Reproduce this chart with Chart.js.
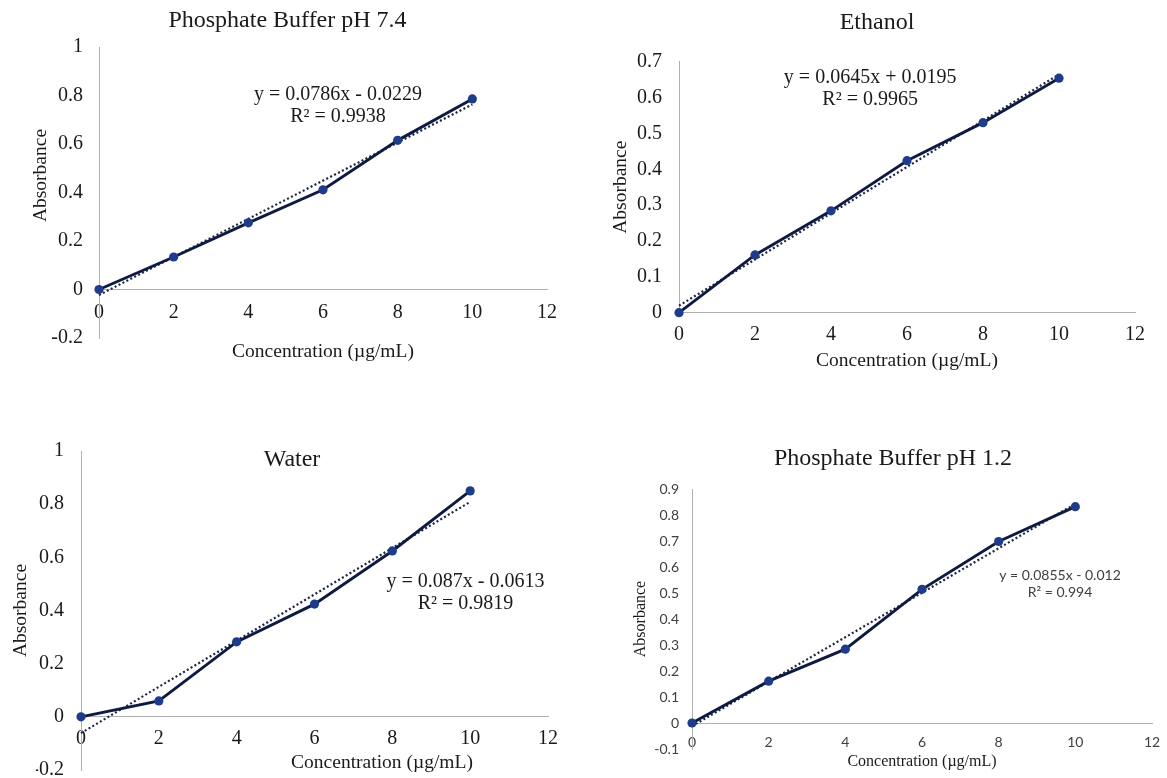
<!DOCTYPE html>
<html>
<head>
<meta charset="utf-8">
<script src="https://cdn.jsdelivr.net/npm/chart.js@4.4.1/dist/chart.umd.min.js"></script>
<style>
  html, body { margin: 0; padding: 0; background: #ffffff; }
  #wrap { position: relative; width: 1167px; height: 778px; overflow: hidden; background: #ffffff; }
  #wrap canvas { position: absolute; left: 0; top: 0; }
</style>
</head>
<body>
<div id="wrap">
  <canvas id="c1" width="1167" height="778"></canvas>
  <canvas id="c2" width="1167" height="778"></canvas>
  <canvas id="c3" width="1167" height="778"></canvas>
  <canvas id="c4" width="1167" height="778"></canvas>
</div>
<script>
// ---------------- data ----------------
const concentration = [0, 2, 4, 6, 8, 10];

const absPB74    = [0, 0.134, 0.275, 0.411, 0.615, 0.786];
const absEthanol = [0, 0.161, 0.284, 0.424, 0.530, 0.654];
const absWater   = [0, 0.060, 0.282, 0.424, 0.624, 0.850];
const absPB12    = [0, 0.161, 0.284, 0.514, 0.698, 0.832];

const trendX       = [0, 10];
const trendPB74    = [-0.0229, 0.7631];
const trendEthanol = [0.0195, 0.6645];
const trendWater   = [-0.0613, 0.8087];
const trendPB12    = [-0.012, 0.843];

const xTicks        = [0, 2, 4, 6, 8, 10, 12];
const yTicksPB74    = [-0.2, 0, 0.2, 0.4, 0.6, 0.8, 1];
const yTicksEthanol = [0, 0.1, 0.2, 0.3, 0.4, 0.5, 0.6, 0.7];
const yTicksWater   = [-0.2, 0, 0.2, 0.4, 0.6, 0.8, 1];
const yTicksPB12    = [-0.1, 0, 0.1, 0.2, 0.3, 0.4, 0.5, 0.6, 0.7, 0.8, 0.9];

const titles = ['Phosphate Buffer pH 7.4', 'Ethanol', 'Water', 'Phosphate Buffer pH 1.2'];
const xAxisTitle = 'Concentration (\u00b5g/mL)';
const yAxisTitle = 'Absorbance';
const eqPB74    = ['y = 0.0786x - 0.0229', 'R\u00b2 = 0.9938'];
const eqEthanol = ['y = 0.0645x + 0.0195', 'R\u00b2 = 0.9965'];
const eqWater   = ['y = 0.087x - 0.0613', 'R\u00b2 = 0.9819'];
const eqPB12    = ['y = 0.0855x - 0.012', 'R\u00b2 = 0.994'];

// ---------------- styling ----------------
const SERIF = '"Liberation Serif", "Times New Roman", serif';
const SANS = 'Lato, "Liberation Sans", sans-serif';
const TEXT = '#1a1a1a';
const AXIS = '#b0b0b0';
const LINE = '#0f1a40';
const MARK = '#1f3c8a';
const TREND = '#1c2442';

function pts(xs, ys) { return xs.map((x, i) => ({ x: x, y: ys[i] })); }

function notesPlugin(items) {
  return {
    id: 'notes',
    afterDraw(chart) {
      const ctx = chart.ctx;
      items.forEach(it => {
        ctx.save();
        ctx.font = it.font;
        ctx.fillStyle = it.color || TEXT;
        ctx.textAlign = 'center';
        ctx.textBaseline = 'middle';
        let px = it.px, py = it.py;
        if (it.dataX !== undefined) {
          px = chart.scales.x.getPixelForValue(it.dataX);
          py = chart.scales.y.getPixelForValue(it.dataY);
        }
        ctx.translate(px, py);
        if (it.rotate) ctx.rotate(it.rotate);
        it.lines.forEach((ln, i) => ctx.fillText(ln, 0, i * (it.gap || 0)));
        ctx.restore();
      });
    }
  };
}

function build(id, s) {
  const tickFont = { family: s.tickFamily, size: s.tickSize };
  return new Chart(document.getElementById(id), {
    type: 'scatter',
    data: {
      datasets: [
        {
          data: pts(concentration, s.values),
          showLine: true,
          borderColor: LINE,
          borderWidth: 2.9,
          pointRadius: 4.6,
          pointBackgroundColor: MARK,
          pointBorderColor: MARK,
          pointBorderWidth: 0,
          tension: 0,
          clip: false
        },
        {
          data: pts(trendX, s.trend),
          showLine: true,
          borderColor: TREND,
          borderWidth: 2.2,
          borderDash: [2, 2.4],
          pointRadius: 0,
          tension: 0,
          clip: false
        }
      ]
    },
    options: {
      responsive: false,
      animation: false,
      devicePixelRatio: 1,
      events: [],
      layout: { padding: s.padding },
      plugins: {
        legend: { display: false },
        tooltip: { enabled: false },
        title: {
          display: true,
          text: s.title,
          color: TEXT,
          font: { family: SERIF, size: s.titleSize, weight: 'normal' },
          padding: s.titlePad
        }
      },
      scales: {
        x: {
          type: 'linear',
          position: { y: 0 },
          min: 0, max: 12,
          afterBuildTicks: sc => { sc.ticks = xTicks.map(v => ({ value: v })); },
          afterFit: sc => { sc.height = s.xHeight; sc.paddingLeft = 0; sc.paddingRight = 0; },
          grid: { display: false, drawTicks: false },
          border: { display: true, color: AXIS, width: 1 },
          ticks: {
            font: tickFont, color: s.tickColor, padding: s.xTickPad,
            autoSkip: false, maxRotation: 0, minRotation: 0,
            callback: v => String(v)
          },
          title: {
            display: s.xTitleBuiltin,
            text: xAxisTitle,
            color: TEXT,
            font: { family: SERIF, size: s.axisTitleSize },
            padding: { top: 0, bottom: 0 }
          }
        },
        y: {
          type: 'linear',
          position: 'left',
          min: s.yTicks[0], max: s.yTicks[s.yTicks.length - 1],
          afterBuildTicks: sc => { sc.ticks = s.yTicks.map(v => ({ value: v })); },
          afterFit: sc => { sc.width = s.yWidth; sc.paddingTop = 0; sc.paddingBottom = 0; },
          grid: { display: false, drawTicks: false },
          border: { display: true, color: AXIS, width: 1 },
          ticks: {
            font: tickFont, color: s.tickColor, padding: s.yTickPad,
            autoSkip: false,
            callback: v => String(v)
          },
          title: {
            display: s.yTitleBuiltin,
            text: yAxisTitle,
            color: TEXT,
            font: { family: SERIF, size: s.axisTitleSize },
            padding: { top: s.yTitlePadTop, bottom: 0 }
          }
        }
      }
    },
    plugins: [notesPlugin(s.notes)]
  });
}

// Phosphate Buffer pH 7.4
build('c1', {
  values: absPB74, trend: trendPB74, yTicks: yTicksPB74, title: titles[0],
  padding: { left: 28, right: 620, top: 6.6, bottom: 440 },
  titleSize: 24, titlePad: { top: 0, bottom: 11.6 },
  tickFamily: SERIF, tickSize: 20, tickColor: TEXT,
  yWidth: 71, yTickPad: 16, yTitleBuiltin: false, yTitlePadTop: 0,
  xHeight: 74.2, xTickPad: 11.5, xTitleBuiltin: true,
  axisTitleSize: 19.5,
  notes: [
    { lines: eqPB74, dataX: 6.4, dataY: 0.803, gap: 22.3, font: '20px ' + SERIF },
    { lines: [yAxisTitle], px: 40.5, py: 175.5, rotate: -Math.PI / 2, font: '19.5px ' + SERIF }
  ]
});

// Ethanol
build('c2', {
  values: absEthanol, trend: trendEthanol, yTicks: yTicksEthanol, title: titles[1],
  padding: { left: 619, right: 32, top: 8.3, bottom: 465.3 },
  titleSize: 24, titlePad: { top: 0, bottom: 24.6 },
  tickFamily: SERIF, tickSize: 20, tickColor: TEXT,
  yWidth: 60, yTickPad: 17, yTitleBuiltin: true, yTitlePadTop: -9.7,
  xHeight: 60, xTickPad: 10.3, xTitleBuiltin: true,
  axisTitleSize: 19.5,
  notes: [
    { lines: eqEthanol, dataX: 5.03, dataY: 0.654, gap: 21.7, font: '20px ' + SERIF }
  ]
});

// Water
build('c3', {
  values: absWater, trend: trendWater, yTicks: yTicksWater, title: titles[2],
  padding: { left: 36, right: 619, top: 445, bottom: 8 },
  titleSize: 24, titlePad: { top: 0, bottom: -22.8 },
  tickFamily: SERIF, tickSize: 20, tickColor: TEXT,
  yWidth: 45, yTickPad: 17, yTitleBuiltin: true, yTitlePadTop: -27.1,
  xHeight: 50, xTickPad: 9.5, xTitleBuiltin: false,
  axisTitleSize: 19.5,
  notes: [
    { lines: eqWater, dataX: 9.88, dataY: 0.508, gap: 22.3, font: '20px ' + SERIF },
    { lines: [xAxisTitle], px: 382, py: 762.7, font: '19.5px ' + SERIF }
  ]
});

// Phosphate Buffer pH 1.2
build('c4', {
  values: absPB12, trend: trendPB12, yTicks: yTicksPB12, title: titles[3],
  padding: { left: 634, right: 15, top: 443.9, bottom: 29 },
  titleSize: 24, titlePad: { top: 0, bottom: 16.3 },
  tickFamily: SANS, tickSize: 14, tickColor: '#404040',
  yWidth: 58, yTickPad: 13, yTitleBuiltin: true, yTitlePadTop: -2.6,
  xHeight: 48.6, xTickPad: 10.6, xTitleBuiltin: true,
  axisTitleSize: 16,
  notes: [
    { lines: eqPB12, dataX: 9.6, dataY: 0.569, gap: 17.5, font: '14px ' + SANS, color: '#404040' }
  ]
});
</script>
</body>
</html>
